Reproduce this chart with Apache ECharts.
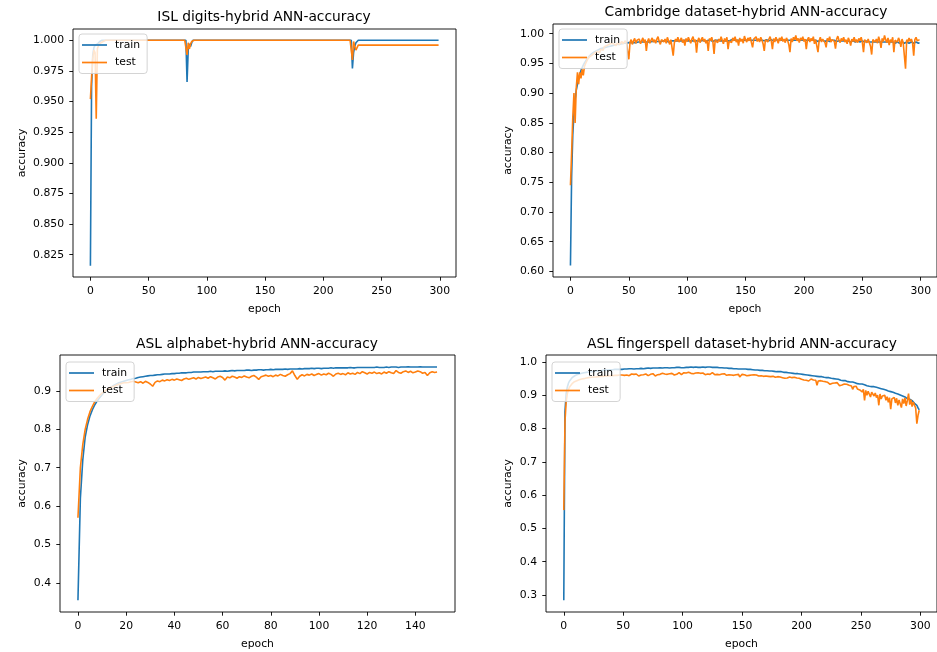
<!DOCTYPE html>
<html><head><meta charset="utf-8">
<script src="https://cdn.jsdelivr.net/npm/echarts@6/dist/echarts.min.js"></script>
<style>html,body{margin:0;padding:0;background:#fff}#c{width:937px;height:652px}</style>
</head><body><div id="c"></div>
<script>
const titles = ["ISL digits-hybrid ANN-accuracy","Cambridge dataset-hybrid ANN-accuracy","ASL alphabet-hybrid ANN-accuracy","ASL fingerspell dataset-hybrid ANN-accuracy"];
const seriesNames = ["train","test"];
const xTicks300 = [0,50,100,150,200,250,300];
const xTicks150 = [0,20,40,60,80,100,120,140];
const yTicksIsl = [0.825,0.850,0.875,0.900,0.925,0.950,0.975,1.000];
const yTicksCam = [0.60,0.65,0.70,0.75,0.80,0.85,0.90,0.95,1.00];
const yTicksAsl = [0.4,0.5,0.6,0.7,0.8,0.9];
const yTicksFs = [0.3,0.4,0.5,0.6,0.7,0.8,0.9,1.0];

const islTrain = [
.816,.962,.988,.994,.996,.997,.997,.998,.999,1,
1,1,1,1,1,1,1,1,1,1,
1,1,1,1,1,1,1,1,1,1,
1,1,1,1,1,1,1,1,1,1,
1,1,1,1,1,1,1,1,1,1,
1,1,1,1,1,1,1,1,1,1,
1,1,1,1,1,1,1,1,1,1,
1,1,1,1,1,1,1,1,1,1,
1,1,1,.966,.992,.997,.995,.998,1,1,
1,1,1,1,1,1,1,1,1,1,
1,1,1,1,1,1,1,1,1,1,
1,1,1,1,1,1,1,1,1,1,
1,1,1,1,1,1,1,1,1,1,
1,1,1,1,1,1,1,1,1,1,
1,1,1,1,1,1,1,1,1,1,
1,1,1,1,1,1,1,1,1,1,
1,1,1,1,1,1,1,1,1,1,
1,1,1,1,1,1,1,1,1,1,
1,1,1,1,1,1,1,1,1,1,
1,1,1,1,1,1,1,1,1,1,
1,1,1,1,1,1,1,1,1,1,
1,1,1,1,1,1,1,1,1,1,
1,1,1,1,1,.977,.990,.995,.998,.999,
1,1,1,1,1,1,1,1,1,1,
1,1,1,1,1,1,1,1,1,1,
1,1,1,1,1,1,1,1,1,1,
1,1,1,1,1,1,1,1,1,1,
1,1,1,1,1,1,1,1,1,1,
1,1,1,1,1,1,1,1,1,1,
1,1,1,1,1,1,1,1,1,1];
const islTest = [
.952,.970,.985,.992,.990,.936,.993,.996,.997,.998,
.999,.999,1,1,1,1,1,1,1,1,
1,1,1,1,1,1,1,1,1,1,
1,1,1,1,1,1,1,1,1,1,
1,1,1,1,1,1,1,1,1,1,
1,1,1,1,1,1,1,1,1,1,
1,1,1,1,1,1,1,1,1,1,
1,1,1,1,1,1,1,1,1,1,
1,1,1,.988,.998,.993,.997,.999,1,1,
1,1,1,1,1,1,1,1,1,1,
1,1,1,1,1,1,1,1,1,1,
1,1,1,1,1,1,1,1,1,1,
1,1,1,1,1,1,1,1,1,1,
1,1,1,1,1,1,1,1,1,1,
1,1,1,1,1,1,1,1,1,1,
1,1,1,1,1,1,1,1,1,1,
1,1,1,1,1,1,1,1,1,1,
1,1,1,1,1,1,1,1,1,1,
1,1,1,1,1,1,1,1,1,1,
1,1,1,1,1,1,1,1,1,1,
1,1,1,1,1,1,1,1,1,1,
1,1,1,1,1,1,1,1,1,1,
1,1,1,1,1,.984,.999,.995,.992,.994,
.996,.996,.996,.996,.996,.996,.996,.996,.996,.996,
.996,.996,.996,.996,.996,.996,.996,.996,.996,.996,
.996,.996,.996,.996,.996,.996,.996,.996,.996,.996,
.996,.996,.996,.996,.996,.996,.996,.996,.996,.996,
.996,.996,.996,.996,.996,.996,.996,.996,.996,.996,
.996,.996,.996,.996,.996,.996,.996,.996,.996,.996,
.996,.996,.996,.996,.996,.996,.996,.996,.996,.996];

const camTrain = [
.610,.760,.830,.865,.890,.905,.915,.925,.932,.938,
.943,.947,.951,.954,.957,.960,.962,.964,.966,.968,
.969,.970,.971,.972,.973,.974,.975,.975,.976,.977,
.977,.978,.978,.979,.979,.980,.980,.981,.981,.981,
.982,.982,.982,.983,.983,.983,.984,.984,.984,.984,
.985,.984,.985,.986,.985,.986,.985,.986,.986,.985,
.986,.987,.986,.985,.986,.987,.986,.987,.986,.987,
.987,.986,.987,.988,.987,.986,.987,.988,.987,.987,
.988,.987,.988,.987,.986,.987,.988,.987,.988,.987,
.988,.987,.988,.989,.988,.987,.988,.988,.989,.988,
.988,.989,.988,.987,.988,.989,.988,.989,.988,.987,
.988,.989,.988,.988,.989,.988,.987,.988,.989,.988,
.989,.988,.987,.988,.989,.988,.989,.988,.988,.989,
.988,.989,.988,.987,.988,.989,.988,.989,.990,.988,
.989,.988,.989,.990,.989,.988,.989,.990,.989,.988,
.989,.990,.989,.988,.989,.990,.989,.988,.989,.990,
.989,.988,.989,.990,.989,.989,.988,.989,.990,.989,
.988,.989,.990,.989,.988,.989,.990,.989,.989,.988,
.989,.990,.989,.988,.989,.990,.989,.988,.989,.990,
.989,.988,.989,.990,.989,.988,.989,.990,.989,.988,
.989,.990,.989,.988,.989,.988,.989,.990,.989,.988,
.989,.988,.987,.988,.989,.988,.989,.988,.987,.988,
.989,.988,.987,.988,.989,.990,.989,.988,.987,.988,
.988,.987,.988,.989,.988,.987,.988,.987,.988,.987,
.986,.987,.988,.987,.986,.987,.988,.987,.986,.987,
.988,.987,.986,.987,.988,.987,.986,.985,.986,.987,
.986,.987,.986,.985,.986,.987,.986,.985,.986,.987,
.986,.985,.986,.987,.986,.985,.986,.985,.984,.985,
.986,.985,.984,.985,.986,.985,.984,.985,.986,.985,
.984,.985,.986,.985,.984,.985,.986,.985,.984,.985];
const camTest = [
.745,.800,.860,.900,.850,.910,.935,.915,.935,.925,
.940,.930,.945,.950,.948,.958,.955,.962,.960,.965,
.963,.968,.966,.970,.972,.968,.974,.975,.972,.978,
.976,.980,.978,.982,.979,.984,.981,.983,.985,.980,
.984,.986,.982,.985,.987,.983,.986,.988,.984,.986,
.957,.985,.990,.982,.988,.992,.984,.989,.986,.991,
.983,.988,.993,.985,.990,.971,.987,.992,.984,.989,
.993,.986,.990,.984,.991,.995,.987,.982,.990,.993,
.986,.991,.984,.994,.988,.982,.990,.992,.963,.985,
.991,.987,.994,.986,.989,.993,.985,.990,.980,.992,
.987,.994,.989,.984,.991,.995,.986,.990,.968,.988,
.993,.985,.990,.994,.987,.991,.984,.989,.971,.992,
.988,.994,.986,.966,.990,.993,.985,.991,.987,.995,
.989,.983,.992,.987,.994,.974,.988,.991,.985,.993,
.988,.995,.986,.990,.980,.993,.987,.991,.984,.996,
.990,.986,.993,.988,.994,.985,.977,.991,.989,.995,
.987,.992,.986,.994,.989,.983,.971,.990,.993,.986,
.991,.995,.988,.974,.992,.986,.994,.989,.984,.993,
.988,.995,.987,.991,.985,.993,.989,.982,.969,.992,
.986,.994,.990,.997,.988,.992,.985,.993,.989,.995,
.987,.991,.974,.990,.994,.986,.992,.988,.995,.983,
.990,.993,.969,.988,.994,.986,.991,.989,.985,.977,
.992,.988,.995,.986,.990,.993,.987,.975,.991,.996,
.989,.985,.992,.988,.994,.986,.990,.983,.993,.988,
.980,.991,.987,.994,.986,.990,.985,.992,.988,.994,
.986,.969,.990,.993,.985,.991,.988,.979,.965,.990,
.993,.986,.991,.984,.995,.988,.976,.992,.987,.997,
.990,.985,.993,.981,.990,.986,.994,.969,.989,.992,
.986,.993,.988,.978,.991,.985,.983,.941,.990,.986,
.993,.987,.991,.985,.963,.990,.994,.988,.986,.990];

const aslTrain = [
.355,.620,.720,.780,.812,.835,.851,.864,.874,.882,
.890,.897,.902,.907,.911,.915,.918,.921,.923,.925,
.927,.929,.930,.932,.933,.935,.936,.937,.938,.939,
.940,.940,.941,.942,.942,.943,.944,.944,.944,.945,
.945,.946,.946,.947,.947,.947,.948,.948,.949,.949,
.949,.949,.950,.950,.950,.951,.950,.951,.951,.951,
.951,.952,.951,.952,.953,.952,.953,.953,.953,.953,
.954,.954,.953,.954,.954,.955,.955,.954,.955,.955,
.956,.955,.956,.956,.956,.956,.957,.956,.957,.957,
.957,.957,.958,.957,.958,.958,.958,.959,.958,.959,
.959,.958,.959,.959,.959,.960,.959,.960,.960,.960,
.960,.960,.960,.961,.960,.960,.961,.961,.961,.961,
.961,.961,.961,.961,.962,.961,.961,.961,.962,.961,
.962,.962,.962,.961,.962,.962,.962,.963,.962,.962,
.962,.962,.963,.962,.962,.962,.962,.962,.962,.962];
const aslTest = [
.570,.700,.760,.800,.826,.846,.860,.872,.881,.888,
.894,.899,.903,.907,.910,.912,.915,.917,.919,.921,
.921,.922,.924,.925,.923,.921,.924,.920,.925,.922,
.918,.912,.922,.926,.924,.928,.926,.929,.927,.930,
.928,.931,.929,.927,.931,.933,.930,.932,.934,.931,
.935,.932,.934,.936,.933,.937,.934,.931,.936,.938,
.935,.928,.936,.934,.938,.936,.933,.937,.935,.939,
.936,.934,.938,.940,.936,.930,.937,.939,.941,.938,
.940,.937,.941,.939,.943,.940,.938,.942,.945,.952,
.940,.930,.938,.942,.939,.943,.941,.944,.940,.943,
.945,.941,.944,.942,.946,.943,.938,.944,.946,.943,
.945,.942,.947,.944,.946,.943,.948,.945,.950,.947,
.944,.948,.946,.949,.945,.947,.944,.949,.946,.950,
.947,.945,.953,.948,.946,.950,.952,.948,.951,.947,
.949,.952,.950,.946,.948,.940,.947,.950,.948,.949];

const fsTrain = [
.284,.850,.905,.925,.937,.944,.949,.953,.956,.958,
.960,.962,.963,.964,.965,.966,.967,.968,.969,.969,
.970,.970,.971,.971,.972,.972,.973,.973,.973,.974,
.974,.974,.975,.975,.975,.976,.976,.976,.976,.977,
.977,.977,.977,.978,.977,.978,.978,.978,.979,.978,
.979,.979,.978,.979,.979,.980,.979,.980,.980,.979,
.980,.980,.981,.980,.980,.981,.981,.980,.981,.981,
.981,.982,.981,.981,.982,.982,.981,.982,.982,.982,
.982,.983,.982,.982,.983,.983,.982,.983,.983,.982,
.983,.983,.984,.983,.983,.984,.983,.984,.984,.983,
.984,.983,.984,.984,.983,.984,.984,.985,.984,.984,
.984,.985,.984,.984,.985,.984,.984,.985,.985,.984,
.986,.985,.984,.985,.984,.984,.985,.984,.983,.984,
.984,.983,.984,.983,.983,.982,.983,.982,.982,.981,
.982,.981,.981,.980,.981,.980,.980,.979,.980,.979,
.979,.979,.978,.979,.978,.978,.977,.978,.977,.977,
.977,.976,.977,.976,.976,.975,.976,.975,.975,.974,
.975,.974,.974,.973,.974,.973,.973,.972,.972,.971,
.972,.971,.970,.971,.970,.969,.970,.969,.968,.968,
.968,.967,.967,.966,.966,.965,.966,.965,.964,.964,
.964,.963,.963,.962,.962,.961,.961,.960,.960,.959,
.959,.958,.958,.957,.957,.956,.955,.956,.955,.954,
.954,.953,.952,.953,.951,.951,.950,.950,.948,.949,
.947,.948,.946,.945,.946,.944,.943,.944,.942,.941,
.942,.940,.939,.940,.937,.938,.936,.935,.936,.934,
.933,.934,.931,.932,.930,.929,.930,.927,.928,.926,
.925,.926,.923,.924,.921,.922,.919,.920,.917,.918,
.914,.916,.912,.913,.910,.911,.908,.909,.905,.906,
.903,.904,.900,.901,.897,.898,.894,.895,.891,.890,
.887,.888,.883,.884,.879,.876,.877,.870,.862,.856];
const fsTest = [
.555,.820,.880,.905,.918,.926,.931,.935,.938,.941,
.943,.944,.946,.947,.948,.949,.950,.950,.951,.952,
.952,.953,.953,.954,.954,.955,.955,.955,.956,.956,
.956,.957,.957,.957,.958,.958,.958,.958,.959,.959,
.959,.959,.960,.960,.960,.960,.961,.961,.961,.961,
.962,.960,.964,.961,.963,.959,.962,.964,.960,.963,
.961,.964,.962,.958,.963,.961,.965,.962,.960,.964,
.962,.959,.964,.963,.961,.965,.962,.958,.964,.962,
.965,.963,.960,.966,.962,.964,.967,.963,.961,.965,
.963,.966,.964,.961,.967,.963,.965,.968,.964,.962,
.966,.968,.964,.967,.965,.969,.963,.966,.968,.965,
.962,.967,.965,.968,.964,.966,.963,.967,.965,.962,
.966,.964,.967,.963,.965,.968,.964,.962,.966,.963,
.965,.962,.966,.964,.961,.965,.963,.960,.964,.962,
.965,.961,.963,.960,.964,.962,.959,.963,.955,.961,
.963,.960,.962,.964,.959,.962,.960,.963,.961,.958,
.962,.959,.961,.963,.958,.961,.959,.962,.957,.960,
.958,.961,.957,.960,.956,.959,.957,.960,.954,.958,
.956,.959,.955,.957,.953,.956,.951,.955,.952,.954,
.955,.951,.953,.950,.954,.949,.952,.948,.951,.953,
.948,.951,.946,.950,.945,.948,.943,.947,.949,.944,
.946,.941,.945,.930,.943,.940,.944,.938,.942,.937,
.941,.935,.939,.942,.933,.938,.936,.931,.937,.934,
.938,.932,.929,.935,.931,.926,.934,.929,.933,.927,
.930,.924,.928,.918,.926,.922,.927,.919,.924,.916,
.921,.910,.918,.885,.915,.900,.912,.906,.895,.909,
.903,.898,.907,.893,.901,.870,.904,.889,.898,.892,
.900,.885,.896,.879,.893,.858,.889,.884,.894,.877,
.891,.870,.886,.880,.863,.889,.875,.892,.868,.884,
.905,.872,.887,.866,.880,.870,.862,.815,.840,.855];

const FONT = 'DejaVu Sans';
const COLORS = ['#1f77b4','#ff7f0e'];
const panels = [
  {train: islTrain, test: islTest, xt: xTicks300, yt: yTicksIsl, dec: 3,
   grid: {left: 73, top: 29, width: 383, height: 248}, tx: 264, ty: 10, lg: {left: 79, top: 34}, yGap: 45},
  {train: camTrain, test: camTest, xt: xTicks300, yt: yTicksCam, dec: 2,
   grid: {left: 553, top: 24, width: 388, height: 253}, tx: 746, ty: 5, lg: {left: 559, top: 29}, yGap: 39},
  {train: aslTrain, test: aslTest, xt: xTicks150, yt: yTicksAsl, dec: 1,
   grid: {left: 60, top: 355, width: 395, height: 257}, tx: 257, ty: 337, lg: {left: 66, top: 362}, yGap: 32},
  {train: fsTrain, test: fsTest, xt: xTicks300, yt: yTicksFs, dec: 1,
   grid: {left: 546, top: 355, width: 393, height: 257}, tx: 742, ty: 337, lg: {left: 552, top: 362}, yGap: 32}
];

const txt = {fontFamily: FONT, fontSize: 10.8, color: '#000'};
const option = {
  animation: false,
  backgroundColor: '#fff',
  title: panels.map((p, i) => ({
    text: titles[i], left: p.tx, top: p.ty, textAlign: 'center', padding: 0,
    textStyle: {fontFamily: FONT, fontSize: 13.8, fontWeight: 'normal', color: '#000'}
  })),
  legend: panels.map(p => ({
    data: seriesNames, left: p.lg.left, top: p.lg.top, orient: 'vertical',
    icon: 'rect', itemWidth: 25, itemHeight: 1.7, itemGap: 3.5,
    padding: [4, 7, 4, 3], backgroundColor: 'rgba(255,255,255,0.8)',
    borderColor: '#cfcfcf', borderWidth: 0.9, borderRadius: 3,
    selectedMode: false,
    textStyle: Object.assign({lineHeight: 14, padding: [0, 0, 0, 3]}, txt)
  })),
  grid: panels.map(p => Object.assign({show: true, borderColor: '#000', borderWidth: 0.9, containLabel: false}, p.grid)),
  xAxis: panels.map((p, i) => {
    const n = p.train.length - 1;
    return {
      type: 'value', gridIndex: i, min: -0.05 * n, max: n * 1.05,
      axisLine: {show: false, onZero: false}, splitLine: {show: false},
      axisTick: {show: true, length: 3.7, customValues: p.xt, lineStyle: {color: '#000', width: 0.9}},
      axisLabel: Object.assign({customValues: p.xt, margin: 9, formatter: v => String(v)}, txt),
      name: 'epoch', nameLocation: 'middle', nameGap: 27, nameTextStyle: txt
    };
  }),
  yAxis: panels.map((p, i) => {
    const all = p.train.concat(p.test);
    const lo = Math.min(...all), hi = Math.max(...all), pad = (hi - lo) * 0.05;
    return {
      type: 'value', gridIndex: i, min: lo - pad, max: hi + pad,
      axisLine: {show: false, onZero: false}, splitLine: {show: false},
      axisTick: {show: true, length: 3.7, customValues: p.yt, lineStyle: {color: '#000', width: 0.9}},
      axisLabel: Object.assign({customValues: p.yt, margin: 9, formatter: v => v.toFixed(p.dec)}, txt),
      name: 'accuracy', nameLocation: 'middle', nameGap: p.yGap, nameTextStyle: txt
    };
  }),
  series: []
};
panels.forEach((p, i) => {
  [p.train, p.test].forEach((arr, k) => {
    option.series.push({
      type: 'line', name: seriesNames[k], xAxisIndex: i, yAxisIndex: i,
      data: arr.map((v, j) => [j, v]), showSymbol: false, symbol: 'none',
      color: COLORS[k], lineStyle: {color: COLORS[k], width: 1.6}, itemStyle: {color: COLORS[k]},
      emphasis: {disabled: true}
    });
  });
});
const chart = echarts.init(document.getElementById('c'), null, {renderer: 'canvas'});
chart.setOption(option);
</script></body></html>
